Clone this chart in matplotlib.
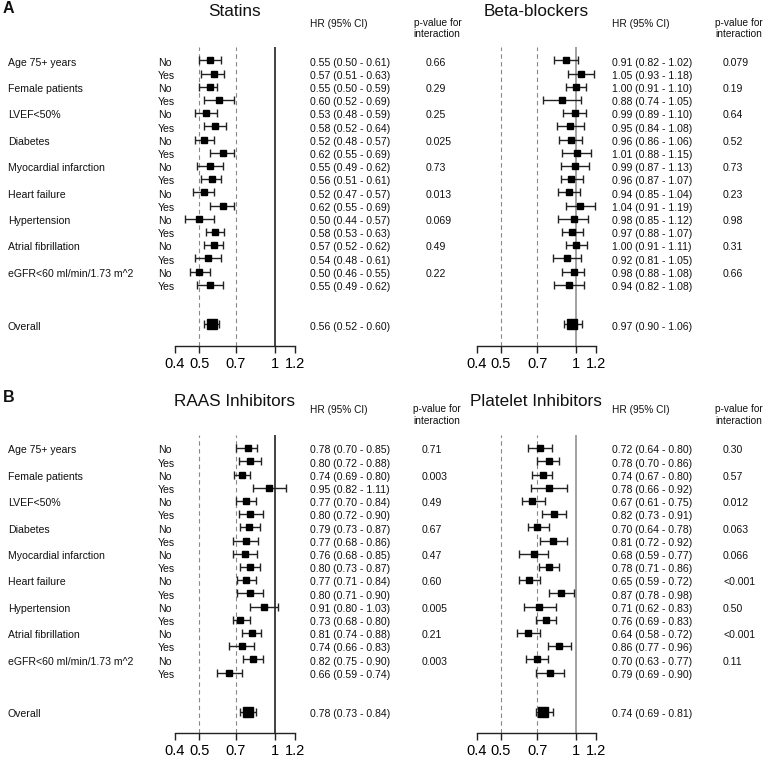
import matplotlib
matplotlib.use('Agg')
import matplotlib.pyplot as plt
from matplotlib.transforms import blended_transform_factory
import numpy as np

plt.rcParams['font.family'] = ['Liberation Sans', 'DejaVu Sans']

W, H = 766, 758

subgroups = ["Age 75+ years", "Female patients", "LVEF<50%", "Diabetes",
             "Myocardial infarction", "Heart failure", "Hypertension",
             "Atrial fibrillation", "eGFR<60 ml/min/1.73 m^2"]
levels = ["No", "Yes"]
tick_values = [0.4, 0.5, 0.7, 1, 1.2]
tick_labels = ["0.4", "0.5", "0.7", "1", "1.2"]

# Statins (No, Yes pairs in subgroup order)
statins_hr = [0.55, 0.57, 0.55, 0.60, 0.53, 0.58, 0.52, 0.62, 0.55, 0.56, 0.52, 0.62, 0.50, 0.58, 0.57, 0.54, 0.50, 0.55]
statins_lo = [0.50, 0.51, 0.50, 0.52, 0.48, 0.52, 0.48, 0.55, 0.49, 0.51, 0.47, 0.55, 0.44, 0.53, 0.52, 0.48, 0.46, 0.49]
statins_hi = [0.61, 0.63, 0.59, 0.69, 0.59, 0.64, 0.57, 0.69, 0.62, 0.61, 0.57, 0.69, 0.57, 0.63, 0.62, 0.61, 0.55, 0.62]
statins_p = ["0.66", "0.29", "0.25", "0.025", "0.73", "0.013", "0.069", "0.49", "0.22"]
statins_overall = [0.56, 0.52, 0.60]

# Beta-blockers
beta_hr = [0.91, 1.05, 1.00, 0.88, 0.99, 0.95, 0.96, 1.01, 0.99, 0.96, 0.94, 1.04, 0.98, 0.97, 1.00, 0.92, 0.98, 0.94]
beta_lo = [0.82, 0.93, 0.91, 0.74, 0.89, 0.84, 0.86, 0.88, 0.87, 0.87, 0.85, 0.91, 0.85, 0.88, 0.91, 0.81, 0.88, 0.82]
beta_hi = [1.02, 1.18, 1.10, 1.05, 1.10, 1.08, 1.06, 1.15, 1.13, 1.07, 1.04, 1.19, 1.12, 1.07, 1.11, 1.05, 1.08, 1.08]
beta_p = ["0.079", "0.19", "0.64", "0.52", "0.73", "0.23", "0.98", "0.31", "0.66"]
beta_overall = [0.97, 0.90, 1.06]

# RAAS inhibitors
raas_hr = [0.78, 0.80, 0.74, 0.95, 0.77, 0.80, 0.79, 0.77, 0.76, 0.80, 0.77, 0.80, 0.91, 0.73, 0.81, 0.74, 0.82, 0.66]
raas_lo = [0.70, 0.72, 0.69, 0.82, 0.70, 0.72, 0.73, 0.68, 0.68, 0.73, 0.71, 0.71, 0.80, 0.68, 0.74, 0.66, 0.75, 0.59]
raas_hi = [0.85, 0.88, 0.80, 1.11, 0.84, 0.90, 0.87, 0.86, 0.85, 0.87, 0.84, 0.90, 1.03, 0.80, 0.88, 0.83, 0.90, 0.74]
raas_p = ["0.71", "0.003", "0.49", "0.67", "0.47", "0.60", "0.005", "0.21", "0.003"]
raas_overall = [0.78, 0.73, 0.84]

# Platelet inhibitors
plat_hr = [0.72, 0.78, 0.74, 0.78, 0.67, 0.82, 0.70, 0.81, 0.68, 0.78, 0.65, 0.87, 0.71, 0.76, 0.64, 0.86, 0.70, 0.79]
plat_lo = [0.64, 0.70, 0.67, 0.66, 0.61, 0.73, 0.64, 0.72, 0.59, 0.71, 0.59, 0.78, 0.62, 0.69, 0.58, 0.77, 0.63, 0.69]
plat_hi = [0.80, 0.86, 0.80, 0.92, 0.75, 0.91, 0.78, 0.92, 0.77, 0.86, 0.72, 0.98, 0.83, 0.83, 0.72, 0.96, 0.77, 0.90]
plat_p = ["0.30", "0.57", "0.012", "0.063", "0.066", "<0.001", "0.50", "<0.001", "0.11"]
plat_overall = [0.74, 0.69, 0.81]

fig = plt.figure(figsize=(W / 100, H / 100), dpi=100)

ROW = 13.2          # px per row
YTOP, YBOT = -1.0, 21.6
OVERALL_ROW = 20
TXT_OFF = 0.17
TXTC = '#111111'
FS_VAL = 7.6
FS_HDR = 7.3


def fx(px):
    return px / W


def fy(py):
    return 1 - py / H


def draw_panel(title, hr, lo, hi, pvals, overall, ax_left, ax_right, row0_px,
               hr_x, phdr_x, p_x, show_labels, ref_color, title_y, hdr_y):
    top_px = row0_px + YTOP * ROW
    bot_px = row0_px + YBOT * ROW
    ax = fig.add_axes([fx(ax_left), fy(bot_px), fx(ax_right - ax_left),
                       (bot_px - top_px) / H])
    ax.set_xscale('log')
    ax.set_xlim(0.4, 1.2)
    ax.set_ylim(YBOT, YTOP)
    for s in ['top', 'right', 'left']:
        ax.spines[s].set_visible(False)
    ax.spines['bottom'].set_linewidth(1.0)
    ax.spines['bottom'].set_color('#222222')
    ax.set_yticks([])
    ax.set_xticks(tick_values)
    ax.set_xticklabels(tick_labels)
    ax.xaxis.set_minor_locator(matplotlib.ticker.NullLocator())
    ax.tick_params(axis='x', length=5, width=1.0, labelsize=10.5, pad=3,
                   color='#222222')
    ax.patch.set_alpha(0)

    ax.axvline(1, color=ref_color, lw=1.3, zorder=1)
    for v in (0.5, 0.7):
        ax.axvline(v, color='#888888', lw=0.8, ls=(0, (4, 3)), zorder=1)

    hr = np.array(hr)
    lo = np.array(lo)
    hi = np.array(hi)
    rows = np.arange(len(hr))
    ax.errorbar(hr, rows, xerr=[hr - lo, hi - hr], fmt='s', color='black',
                ecolor='#222222', elinewidth=1.0, capsize=2.6, capthick=1.0,
                ms=4.3, zorder=3)
    ax.errorbar([overall[0]], [OVERALL_ROW],
                xerr=[[overall[0] - overall[1]], [overall[2] - overall[0]]],
                fmt='s', color='black', ecolor='#222222', elinewidth=1.0,
                capsize=2.6, capthick=1.0, ms=6.5, zorder=3)

    tr = blended_transform_factory(fig.transFigure, ax.transData)
    for i in range(len(hr)):
        y = i + TXT_OFF
        if show_labels:
            ax.text(fx(158), y, levels[i % 2], transform=tr, fontsize=FS_VAL,
                    va='center', ha='left', color=TXTC)
            if i % 2 == 0:
                ax.text(fx(8), y, subgroups[i // 2], transform=tr,
                        fontsize=FS_VAL, va='center', ha='left', color=TXTC)
        ax.text(fx(hr_x), y, "%.2f (%.2f - %.2f)" % (hr[i], lo[i], hi[i]),
                transform=tr, fontsize=FS_VAL, va='center', ha='left',
                color=TXTC)
        if i % 2 == 0:
            ax.text(fx(p_x), y, pvals[i // 2], transform=tr, fontsize=FS_VAL,
                    va='center', ha='left', color=TXTC)
    y = OVERALL_ROW + TXT_OFF
    if show_labels:
        ax.text(fx(8), y, "Overall", transform=tr, fontsize=FS_VAL,
                va='center', ha='left', color=TXTC)
    ax.text(fx(hr_x), y, "%.2f (%.2f - %.2f)" % tuple(overall), transform=tr,
            fontsize=FS_VAL, va='center', ha='left', color=TXTC)

    fig.text(fx((ax_left + ax_right) / 2), fy(title_y), title, fontsize=12.3,
             ha='center', va='center', color=TXTC)
    fig.text(fx(hr_x), fy(hdr_y + 1.5), "HR (95% CI)", fontsize=FS_HDR,
             ha='left', va='center', color=TXTC)
    fig.text(fx(phdr_x), fy(hdr_y), "p-value for", fontsize=FS_HDR,
             ha='left', va='center', color=TXTC)
    fig.text(fx(phdr_x), fy(hdr_y + 11.5), "interaction", fontsize=FS_HDR,
             ha='left', va='center', color=TXTC)
    return ax


draw_panel("Statins", statins_hr, statins_lo, statins_hi, statins_p,
           statins_overall, 175, 294.5, 60.4, 310, 413.5, 426, True,
           '#333333', 12, 22.7)
draw_panel("Beta-blockers", beta_hr, beta_lo, beta_hi, beta_p, beta_overall,
           476.7, 595.5, 60.4, 611.7, 715, 723, False, '#9a9a9a', 12, 22.7)
draw_panel("RAAS Inhibitors", raas_hr, raas_lo, raas_hi, raas_p, raas_overall,
           175, 294.5, 448.2, 310, 413, 421.7, True, '#333333', 401.7, 409)
draw_panel("Platelet Inhibitors", plat_hr, plat_lo, plat_hi, plat_p,
           plat_overall, 476.7, 595.5, 448.2, 611.7, 715, 723, False,
           '#9a9a9a', 401.7, 409)

fig.text(fx(2.5), fy(8.5), "A", fontsize=11.5, fontweight='bold', ha='left',
         va='center', color=TXTC)
fig.text(fx(2.5), fy(398), "B", fontsize=11.5, fontweight='bold', ha='left',
         va='center', color=TXTC)

fig.savefig("out.png", dpi=100)
